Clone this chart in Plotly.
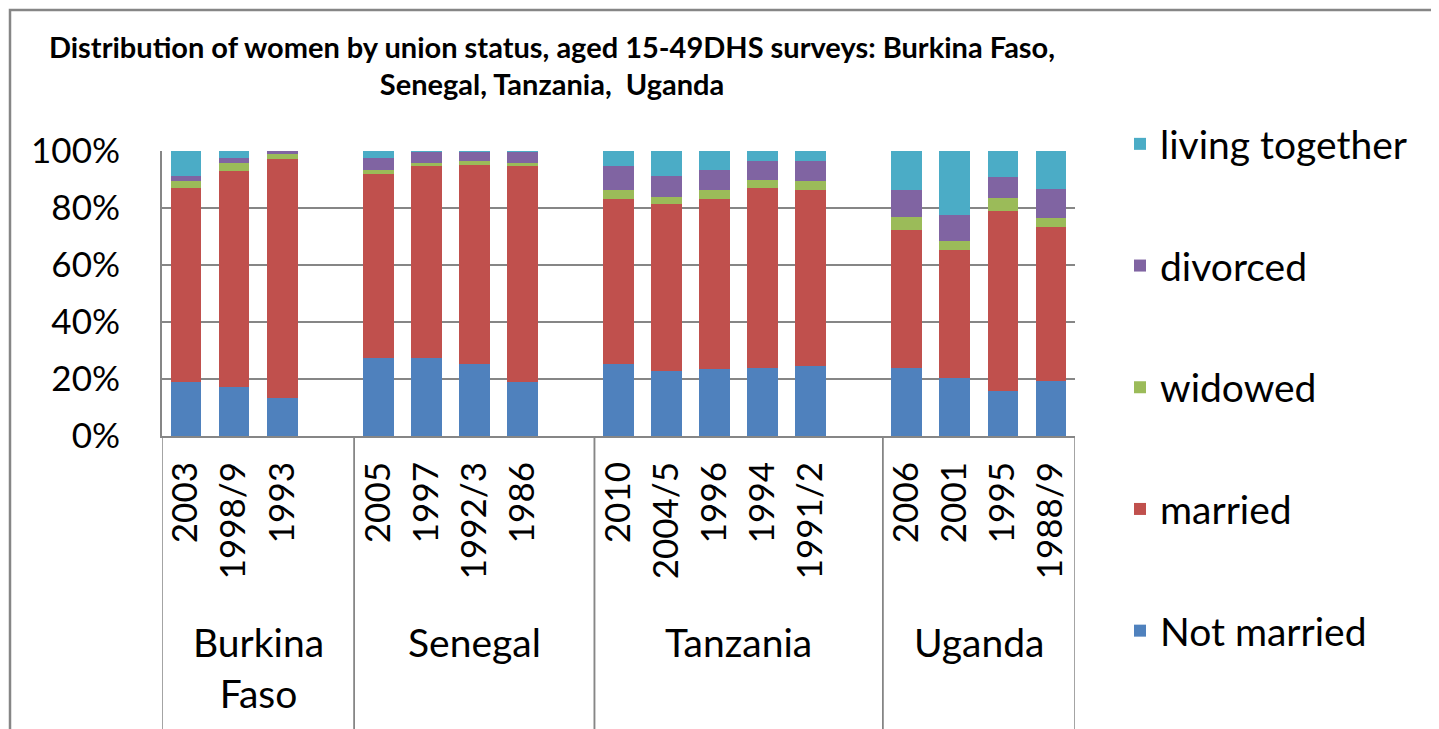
import plotly.graph_objects as go

# ---- data ----
countries = ["Burkina<br>Faso", "Senegal", "Tanzania", "Uganda"]
survey_years = [
    ["2003", "1998/9", "1993"],
    ["2005", "1997", "1992/3", "1986"],
    ["2010", "2004/5", "1996", "1994", "1991/2"],
    ["2006", "2001", "1995", "1988/9"],
]
not_married = [19.1, 17.2, 13.5, 27.5, 27.5, 25.4, 19.1, 25.4, 22.8, 23.5, 24.0, 24.7, 24.0, 20.5, 15.8, 19.3]
married     = [68.0, 75.8, 83.7, 64.5, 67.3, 69.7, 75.7, 57.8, 58.7, 59.7, 63.1, 61.7, 48.4, 44.9, 63.1, 54.0]
widowed     = [2.4, 2.8, 1.7, 1.4, 1.0, 1.4, 1.0, 3.1, 2.4, 3.1, 2.8, 3.1, 4.4, 3.0, 4.7, 3.3]
divorced    = [1.8, 1.9, 1.1, 4.3, 3.9, 3.3, 3.9, 8.5, 7.4, 7.1, 6.6, 7.0, 9.6, 9.1, 7.3, 10.1]
living_tog  = [8.7, 2.3, 0.0, 2.3, 0.3, 0.3, 0.3, 5.2, 8.7, 6.6, 3.5, 3.5, 13.6, 22.5, 9.1, 13.3]

series_names = ["Not married", "married", "widowed", "divorced", "living together"]
series_values = [not_married, married, widowed, divorced, living_tog]
series_colors = ["#4F81BD", "#C0504D", "#9BBB59", "#8064A2", "#4BACC6"]

y_ticks = [0, 20, 40, 60, 80, 100]
y_tick_labels = ["0%", "20%", "40%", "60%", "80%", "100%"]

title_text = ("Distribution of women by union status, aged 15-49DHS surveys: Burkina Faso,"
              "<br>Senegal, Tanzania,  Uganda")

# ---- category positions (one empty slot after each country group) ----
x_pos, x_labels, group_bounds = [], [], []
slot = 0
for gi, yrs in enumerate(survey_years):
    start = slot
    for y in yrs:
        x_pos.append(slot)
        x_labels.append(y)
        slot += 1
    if gi < len(survey_years) - 1:
        slot += 1  # blank category
    group_bounds.append((start - 0.5, slot - 0.5))
n_slots = slot

FONT = "Lato, Carlito, Calibri, sans-serif"

fig = go.Figure()
for rank, (name, vals, col) in enumerate(zip(series_names, series_values, series_colors)):
    fig.add_trace(go.Bar(
        x=x_pos, y=vals, name=name, marker_color=col, marker_line_width=0,
        width=0.64, legendgroup=name, legendrank=10 - rank,
    ))

# the page body has an 8px margin: work in screen pixels and convert
OFF = 8
W, H = 1439 - OFF, 729 - OFF
L, R, T, B = 162, 1075, 151, 436          # plot area in screen px
def px_x(p):
    return (p - L) / (R - L)
def px_y(p):
    return (B - p) / (B - T)

shapes = []
for (a, b) in group_bounds:
    for xv in (a, b):
        shapes.append(dict(type="line", xref="x", yref="paper", x0=xv, x1=xv,
                           y0=0, y1=px_y(760), line=dict(color="#868686", width=1.5)))
shapes.append(dict(type="rect", xref="paper", yref="paper",
                   x0=px_x(10), x1=px_x(1434), y0=px_y(10), y1=px_y(760),
                   line=dict(color="#868686", width=2.5), fillcolor="rgba(0,0,0,0)", layer="below"))

annotations = []
for (a, b), c in zip(group_bounds, countries):
    annotations.append(dict(x=(a + b) / 2, xref="x", y=px_y(617), yref="paper",
                            text=c, showarrow=False, yanchor="top", xanchor="center",
                            font=dict(family=FONT, size=39, color="black")))

fig.update_layout(
    width=W, height=H,
    margin=dict(l=L - OFF, r=W - (R - OFF), t=T - OFF, b=H - (B - OFF), pad=0, autoexpand=False),
    paper_bgcolor="white", plot_bgcolor="white",
    barmode="stack", bargap=0,
    font=dict(family=FONT, size=35, color="black"),
    title=dict(text=title_text, x=(552 - OFF) / W, xanchor="center", xref="container",
               y=1 - (57.5 - OFF) / H, yanchor="middle", yref="container",
               font=dict(family=FONT, size=29, color="black", weight="bold")),
    xaxis=dict(range=[-0.5, n_slots - 0.5], tickmode="array", tickvals=x_pos, ticktext=x_labels,
               tickangle=-90, showgrid=False, showline=True, linecolor="#868686", linewidth=2,
               ticks="", ticklabelstandoff=10, tickfont=dict(family=FONT, size=35, color="black"),
               zeroline=False),
    yaxis=dict(range=[0, 100], tickmode="array", tickvals=y_ticks, ticktext=y_tick_labels,
               showgrid=True, gridcolor="#868686", gridwidth=1.5, showline=True,
               linecolor="#868686", linewidth=2, ticks="", ticklabelstandoff=33,
               tickfont=dict(family=FONT, size=35, color="black"), zeroline=False),
    legend=dict(x=px_x(1120), xref="paper", xanchor="left",
                y=1 - (112 - OFF) / H, yref="container", yanchor="top", maxheight=1,
                traceorder="grouped", tracegroupgap=68, font=dict(family=FONT, size=39),
                bgcolor="rgba(0,0,0,0)", itemclick=False),
    shapes=shapes, annotations=annotations,
)

fig.write_html("out.html")
